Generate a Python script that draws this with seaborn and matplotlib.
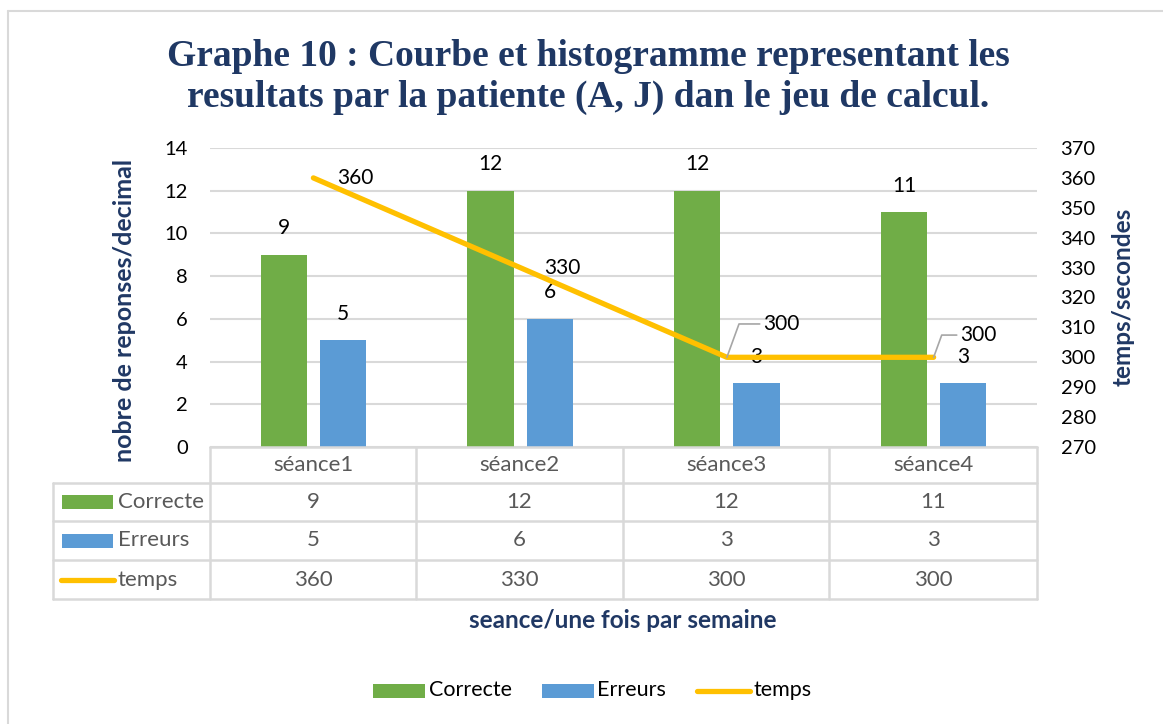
import numpy as np
import pandas as pd
import matplotlib.pyplot as plt
import seaborn as sns
from matplotlib.lines import Line2D
from matplotlib.patches import Rectangle

seances = ['séance1', 'séance2', 'séance3', 'séance4']
correcte = [9, 12, 12, 11]
erreurs = [5, 6, 3, 3]
temps = [360, 330, 300, 300]
series = ['Correcte', 'Erreurs', 'temps']

GREEN = '#70AD47'
BLUE = '#5B9BD5'
YELLOW = '#FFC000'
NAVY = '#203864'
GRID = '#D9D9D9'

sns.set_theme(style='white')
plt.rcParams['font.family'] = ['Lato', 'DejaVu Sans']

W, H = 1163, 724
fig = plt.figure(figsize=(W / 100, H / 100), dpi=100)


def fx(px):
    return px / W


def fy(py):
    return 1 - py / H


# plot area in pixels: x 210..1037, y 148..447
ax = fig.add_axes([fx(210), fy(447), (1037 - 210) / W, (447 - 148) / H])

df = pd.DataFrame({
    'seance': seances * 2,
    'valeur': correcte + erreurs,
    'serie': ['Correcte'] * 4 + ['Erreurs'] * 4,
})
sns.barplot(data=df, x='seance', y='valeur', hue='serie', palette=[GREEN, BLUE],
            saturation=1, width=0.572, gap=0.22, linewidth=0, legend=False,
            ax=ax, zorder=2)

ax.set_ylim(0, 14)
ax.set_yticks(range(0, 15, 2))
ax.set_xlim(-0.5, 3.5)
ax.set_xticks([])
ax.set_xlabel('')
ax.set_ylabel('')
ax.yaxis.grid(True, color=GRID, lw=1.5)
ax.set_axisbelow(True)
for s in ax.spines.values():
    s.set_visible(False)
ax.tick_params(axis='y', length=0, pad=16, labelsize=14.5, labelcolor='#000000')

# bar value labels
for cont in ax.containers:
    for bar in cont:
        h = bar.get_height()
        ax.annotate(f'{int(h)}', (bar.get_x() + bar.get_width() / 2, h),
                    xytext=(0, 19), textcoords='offset points',
                    ha='center', va='center', fontsize=15, color='#000000')

# line on secondary axis
ax2 = ax.twinx()
xpos = np.arange(len(seances))
sns.lineplot(x=xpos, y=temps, color=YELLOW, lw=3.8, ax=ax2,
             solid_capstyle='round', solid_joinstyle='round', zorder=3)
ax2.set_ylim(270, 370)
ax2.set_yticks(range(270, 371, 10))
ax2.set_xlim(-0.5, 3.5)
for s in ax2.spines.values():
    s.set_visible(False)
ax2.tick_params(axis='y', length=0, pad=17, labelsize=14.5, labelcolor='#000000')
ax2.grid(False)

# line labels (offsets in points)
offsets = [(17, 0), (17, 0), (26, 24), (19, 16)]
for i, (t, off) in enumerate(zip(temps, offsets)):
    if i < 2:
        ax2.annotate(f'{t}', (xpos[i], t), xytext=off, textcoords='offset points',
                     ha='left', va='center', fontsize=15, color='#000000')
    else:
        ax2.annotate(f'{t}', (xpos[i], t), xytext=off, textcoords='offset points',
                     ha='left', va='center', fontsize=15, color='#000000',
                     arrowprops=dict(arrowstyle='-', color='#A6A6A6', lw=1.2,
                                     connectionstyle='angle,angleA=0,angleB=70,rad=0',
                                     shrinkA=0, shrinkB=0,
                                     relpos=(0, 0.5)))

# axis titles
fig.text(fx(124), fy(310), 'nobre de reponses/decimal', rotation=90,
         ha='center', va='center', fontsize=18, fontweight='bold', color=NAVY)
fig.text(fx(1123), fy(297), 'temps/secondes', rotation=90,
         ha='center', va='center', fontsize=17.5, fontweight='bold', color=NAVY)
fig.text(fx(623), fy(620), 'seance/une fois par semaine',
         ha='center', va='center', fontsize=17.5, fontweight='bold', color=NAVY)

# title
fig.text(fx(588), fy(77),
         'Graphe 10 : Courbe et histogramme representant les\n'
         'resultats par la patiente (A, J) dan le jeu de calcul.',
         ha='center', va='center', fontsize=27, fontweight='bold',
         family='Liberation Serif', color='#1F3864', linespacing=1.25)

# data table
col_edges = [210, 416, 623, 829, 1037]
row_edges = [447, 483, 521, 560, 599]
tcol = '#D9D9D9'
lw = 1.8
for x in col_edges:
    fig.add_artist(Line2D([fx(x), fx(x)], [fy(447), fy(599)], color=tcol, lw=lw))
fig.add_artist(Line2D([fx(53), fx(53)], [fy(483), fy(599)], color=tcol, lw=lw))
fig.add_artist(Line2D([fx(210), fx(1037)], [fy(447), fy(447)], color=tcol, lw=lw))
for y in row_edges[1:]:
    fig.add_artist(Line2D([fx(53), fx(1037)], [fy(y), fy(y)], color=tcol, lw=lw))

tbl_rows = [correcte, erreurs, temps]
for j, name in enumerate(seances):
    xc = (col_edges[j] + col_edges[j + 1]) / 2
    fig.text(fx(xc), fy(465), name, ha='center', va='center', fontsize=16, color='#595959')
    for r, vals in enumerate(tbl_rows):
        yc = (row_edges[r + 1] + row_edges[r + 2]) / 2
        fig.text(fx(xc), fy(yc), f'{vals[j]}', ha='center', va='center',
                 fontsize=16, color='#595959')

key_colors = [GREEN, BLUE, YELLOW]
for r, (name, c) in enumerate(zip(series, key_colors)):
    yc = (row_edges[r + 1] + row_edges[r + 2]) / 2
    if name == 'temps':
        fig.add_artist(Line2D([fx(61), fx(114)], [fy(yc), fy(yc)], color=c, lw=3.8,
                              solid_capstyle='round'))
    else:
        fig.add_artist(Rectangle((fx(62), fy(yc + 7)), 51 / W, 14 / H, color=c, lw=0))
    fig.text(fx(118), fy(yc), name, ha='left', va='center', fontsize=16, color='#595959')

# bottom legend
leg_items = [(373, 429, GREEN, 'Correcte'), (542, 597, BLUE, 'Erreurs'),
             (695, 753, YELLOW, 'temps')]
for x0, xt, c, name in leg_items:
    if name == 'temps':
        fig.add_artist(Line2D([fx(x0 + 2), fx(x0 + 55)], [fy(691), fy(691)], color=c,
                              lw=3.8, solid_capstyle='round'))
    else:
        fig.add_artist(Rectangle((fx(x0), fy(698)), 52 / W, 14 / H, color=c, lw=0))
    fig.text(fx(xt), fy(690), name, ha='left', va='center', fontsize=15.5, color='#000000')

# chart border
fig.add_artist(Line2D([fx(8), fx(1163)], [fy(11), fy(11)], color='#D9D9D9', lw=1.5))
fig.add_artist(Line2D([fx(8), fx(8)], [fy(11), fy(724)], color='#D9D9D9', lw=1.5))

fig.savefig('out.png', dpi=100)
